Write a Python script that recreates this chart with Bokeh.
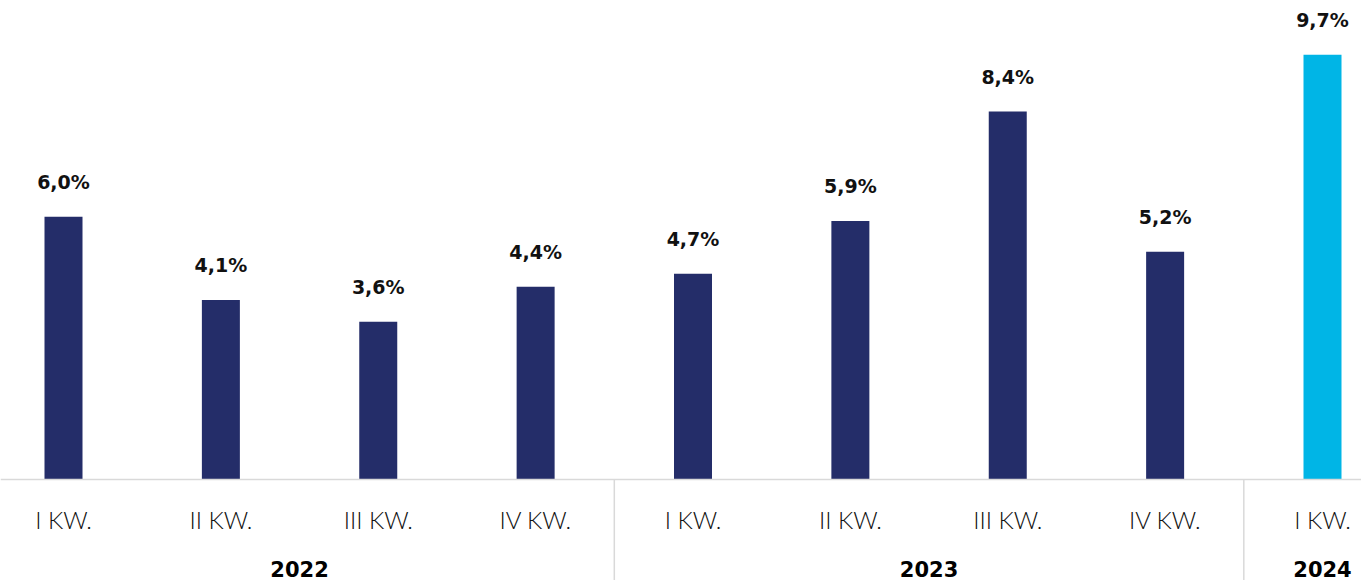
from bokeh.plotting import figure
from bokeh.models import Range1d, Span, ColumnDataSource
from bokeh.core.properties import value
from bokeh.embed import file_html
from bokeh.resources import INLINE

# ---- data ----
quarters = ["I KW.", "II KW.", "III KW.", "IV KW.",
            "I KW.", "II KW.", "III KW.", "IV KW.",
            "I KW."]
years = ["2022", "2023", "2024"]
quarters_per_year = [4, 4, 1]
values = [6.0, 4.1, 3.6, 4.4, 4.7, 5.9, 8.4, 5.2, 9.7]

# ---- style ----
NAVY = "#242d69"
CYAN = "#00b5e6"
GRID = "#d9d9d9"
W, H = 1361, 580
PX_PER_UNIT = 43.8     # pixels per percentage point
BASE_PX = 479          # baseline distance from canvas top
SLOT_PX = 157.375      # pixels per category slot
FIRST_PX = 63          # centre of first slot from canvas left
BAR_PX = 38

n = len(values)
xs = list(range(n))
labels = [f"{v:.1f}%".replace(".", ",") for v in values]
colors = [NAVY] * (n - 1) + [CYAN]

# group geometry derived from quarters_per_year
bounds = []
centres = []
start = 0
for k in quarters_per_year:
    centres.append(start + (k - 1) / 2)
    start += k
    bounds.append(start - 0.5)
bounds = bounds[:-1]

y_start = -(H - BASE_PX) / PX_PER_UNIT
y_end = BASE_PX / PX_PER_UNIT
x_start = -FIRST_PX / SLOT_PX
x_end = (W - FIRST_PX) / SLOT_PX

p = figure(width=W, height=H, output_backend="svg", toolbar_location=None,
           x_range=Range1d(x_start, x_end), y_range=Range1d(y_start, y_end),
           x_axis_location=None, y_axis_location=None, min_border=0)
p.grid.visible = False
p.outline_line_color = None
p.background_fill_color = "white"
p.border_fill_color = "white"

src = ColumnDataSource(dict(x=xs, top=values, label=labels, color=colors,
                            quarter=quarters, zero=[0] * n))

p.vbar(x="x", top="top", bottom=0, width=BAR_PX / SLOT_PX, color="color",
       line_color=None, source=src)

# baseline (axis line)
p.add_layout(Span(location=0, dimension="width", line_color=GRID, line_width=1.5))

# separators between years
p.segment(x0=bounds, y0=[0] * len(bounds), x1=bounds, y1=[y_start] * len(bounds),
          line_color=GRID, line_width=1.5)

# value labels
p.text(x="x", y="top", text="label", source=src, y_offset=-35,
       text_align="center", text_baseline="alphabetic",
       text_font=value("DejaVu Sans"), text_font_style="bold",
       text_font_size="19px", text_color="#111111")

# quarter labels
p.text(x="x", y="zero", text="quarter", source=src, y_offset=40,
       text_align="center", text_baseline="alphabetic",
       text_font=value("'Lato Light', 'Roboto Light', Lato"),
       text_font_size="24px", text_color="#111111")

# year labels
p.text(x=centres, y=[0] * len(centres), text=years, y_offset=89,
       text_align="center", text_baseline="alphabetic",
       text_font=value("DejaVu Sans"), text_font_style="bold",
       text_font_size="21px", text_color="#000000")

open("out.html", "w").write(file_html(p, INLINE))
